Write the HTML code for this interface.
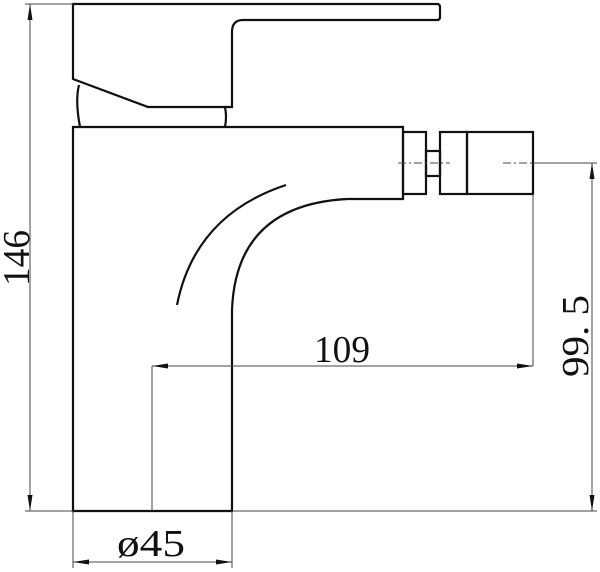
<!DOCTYPE html>
<html><head><style>
html,body{margin:0;padding:0;background:#fff;}
svg{display:block;}
text{font-family:"Liberation Serif",serif;fill:#111;}
</style></head><body>
<svg width="600" height="572" viewBox="0 0 600 572" xmlns="http://www.w3.org/2000/svg">
<defs>
<marker id="a" markerWidth="16" markerHeight="8" refX="16" refY="4" orient="auto-start-reverse" markerUnits="userSpaceOnUse">
<path d="M0,1.5 L16,4 L0,6.5 Z" fill="#111"/></marker>
</defs>
<g fill="none" stroke="#111" stroke-width="2.2" stroke-linejoin="miter">
<path d="M73,79 L73,4 L437,4 Q440,4 440,7 L440,17 Q440,20 437,20 L243,20 Q232,20 232,32 L232,107 L148,107 Z"/>
<path d="M79,85 Q75,100 80,127"/>
<path d="M225,107 Q227,117 225,127"/>
<path d="M232,511 L232,310 Q236,205 347,199 L403,199 L403,127 L73,127 L73,511 Z"/>
<path d="M286,185 Q195,215 177,305"/>
<rect x="403" y="132" width="23" height="62"/>
<rect x="426" y="151" width="14" height="25"/>
<rect x="440" y="132" width="27" height="62"/>
<rect x="467" y="132" width="66" height="62"/>
</g>
<g stroke="#444" stroke-width="1" fill="none">
<path d="M398,163 H450 M503,163 H533" stroke-dasharray="8,3,2,3"/>
<path d="M533,163 H597"/>
<path d="M533,194 V366"/>
<path d="M152,366 V511"/>
<path d="M25,4 H73"/>
<path d="M25,511 H73 M232,511 H597"/>
<path d="M73,511 V568 M232,511 V568"/>
<path d="M30,4 V511" marker-start="url(#a)" marker-end="url(#a)"/>
<path d="M592,163 V511" marker-start="url(#a)" marker-end="url(#a)"/>
<path d="M152,366 H533" marker-start="url(#a)" marker-end="url(#a)"/>
<path d="M73,562 H232" marker-start="url(#a)" marker-end="url(#a)"/>
</g>
<text x="314" y="362" font-size="38" textLength="56" lengthAdjust="spacingAndGlyphs">109</text>
<text x="117" y="556" font-size="38" textLength="68" lengthAdjust="spacingAndGlyphs">ø45</text>
<text transform="translate(588,377) rotate(-90)" font-size="38" textLength="82" lengthAdjust="spacingAndGlyphs">99. 5</text>
<text transform="translate(29,286) rotate(-90)" font-size="38" textLength="56" lengthAdjust="spacingAndGlyphs">146</text>
</svg>
</body></html>
